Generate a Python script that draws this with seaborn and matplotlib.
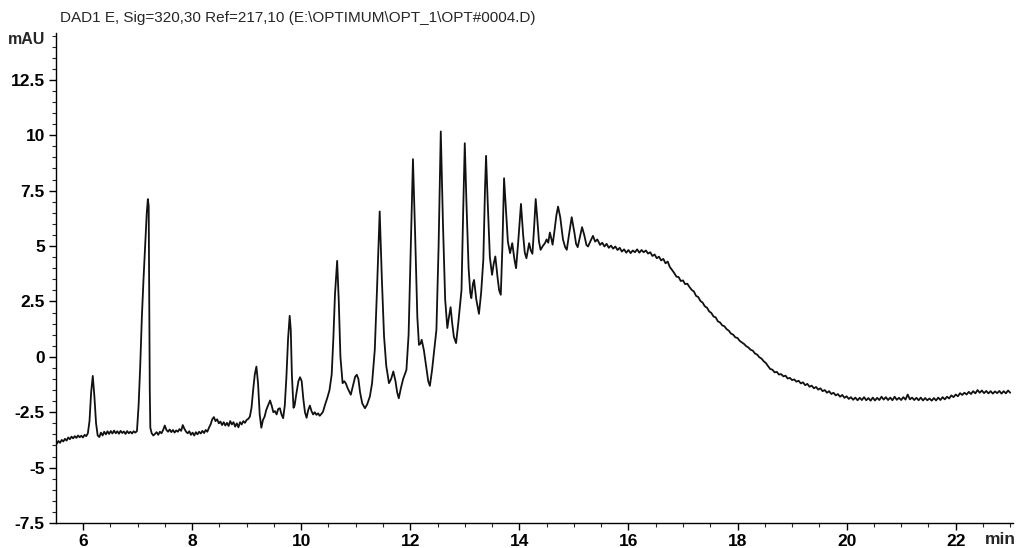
import numpy as np
import pandas as pd
import matplotlib
matplotlib.use("Agg")
import matplotlib.pyplot as plt
from matplotlib.ticker import MultipleLocator, FuncFormatter
import seaborn as sns

# ---- data (time in min, signal in mAU) ----
time_min = [
    5.52, 5.55, 5.58, 5.61, 5.64, 5.67, 5.70, 5.73, 5.76, 5.79, 5.82, 5.85, 5.88, 5.91, 5.94, 5.97,
    6.00, 6.03, 6.06, 6.09,
    6.12, 6.15, 6.18, 6.21, 6.24, 6.27, 6.30,
    6.33, 6.36, 6.39, 6.42, 6.45, 6.48, 6.51, 6.54, 6.57, 6.60, 6.63, 6.66, 6.69, 6.72, 6.75, 6.78,
    6.81, 6.84, 6.87, 6.90, 6.93, 6.96, 6.99,
    7.02, 7.05, 7.08, 7.11, 7.14, 7.17, 7.19, 7.205, 7.215, 7.225, 7.235, 7.26, 7.29, 7.32,
    7.35, 7.38, 7.41, 7.44, 7.47, 7.50, 7.53, 7.56, 7.59, 7.62, 7.65, 7.68, 7.71, 7.74, 7.77, 7.80,
    7.83, 7.86, 7.89, 7.92, 7.95, 7.98, 8.01, 8.04, 8.07, 8.10, 8.13, 8.16, 8.19, 8.22, 8.25, 8.28,
    8.31, 8.34, 8.37, 8.40, 8.43, 8.46, 8.49, 8.52, 8.55, 8.58, 8.61, 8.64, 8.67, 8.70, 8.73, 8.76,
    8.79, 8.82, 8.85, 8.88, 8.91, 8.94, 8.97, 9.00, 9.03, 9.06,
    9.09, 9.12, 9.15, 9.18, 9.21, 9.24, 9.27, 9.30, 9.33, 9.36, 9.40, 9.43, 9.46, 9.49, 9.52, 9.55,
    9.58, 9.61, 9.64, 9.67, 9.70, 9.73, 9.76, 9.79, 9.81, 9.83, 9.86, 9.88, 9.91, 9.95, 9.98, 10.01,
    10.04, 10.07, 10.10, 10.13, 10.16, 10.19, 10.22, 10.25, 10.28, 10.31, 10.34, 10.37, 10.40, 10.44,
    10.48, 10.52, 10.56, 10.59, 10.62, 10.66, 10.69, 10.72, 10.76, 10.79, 10.82, 10.85, 10.88, 10.91,
    10.95, 10.99, 11.02, 11.05, 11.08, 11.12, 11.17, 11.21, 11.26, 11.30, 11.35, 11.39, 11.44, 11.48,
    11.52, 11.56, 11.61, 11.65, 11.69, 11.73, 11.76, 11.79, 11.83, 11.87, 11.93, 11.97, 12.01, 12.05,
    12.09, 12.13, 12.16, 12.19, 12.21, 12.25, 12.29, 12.33, 12.36, 12.40, 12.44, 12.48, 12.52, 12.56,
    12.60, 12.64, 12.68, 12.71, 12.74, 12.77, 12.80, 12.84, 12.88, 12.92, 12.94, 12.97, 13.00, 13.03,
    13.07, 13.10, 13.12, 13.15, 13.17, 13.21, 13.26, 13.30, 13.34, 13.37, 13.39, 13.42, 13.46, 13.50,
    13.53, 13.56, 13.60, 13.63, 13.66, 13.69, 13.72, 13.75, 13.79, 13.83, 13.87, 13.91, 13.94, 13.98,
    14.03, 14.07, 14.10, 14.13, 14.18, 14.21, 14.24, 14.27, 14.30, 14.33, 14.36, 14.39, 14.43, 14.47,
    14.50, 14.53, 14.56, 14.59, 14.61, 14.64, 14.68, 14.71, 14.75, 14.80, 14.84, 14.87, 14.91, 14.96,
    15.01, 15.04, 15.07, 15.11, 15.15, 15.19, 15.23, 15.26, 15.30, 15.35, 15.39, 15.43, 15.48,
    15.52, 15.56, 15.60, 15.64, 15.68, 15.72, 15.76, 15.80, 15.84, 15.88, 15.92, 15.96, 16.00, 16.04,
    16.08, 16.12, 16.16, 16.20, 16.24, 16.28, 16.32, 16.36, 16.40, 16.44, 16.48, 16.52, 16.56, 16.60,
    16.64, 16.68, 16.72, 16.76, 16.80, 16.84, 16.88, 16.92, 16.96, 17.00, 17.04, 17.08, 17.12, 17.16,
    17.20, 17.24, 17.28, 17.32, 17.36, 17.40, 17.44, 17.48, 17.52, 17.56, 17.60, 17.64, 17.68, 17.72,
    17.76, 17.80, 17.84, 17.88, 17.92, 17.96, 18.00, 18.04, 18.08, 18.12, 18.16, 18.20, 18.24, 18.28,
    18.32, 18.36, 18.40, 18.44, 18.48, 18.52, 18.56, 18.60, 18.64, 18.68, 18.72, 18.76, 18.80, 18.84,
    18.88, 18.92, 18.96, 19.00, 19.04, 19.08, 19.12, 19.16, 19.20, 19.24, 19.28, 19.32, 19.36, 19.40,
    19.44, 19.48, 19.52, 19.56, 19.60, 19.64, 19.68, 19.72, 19.76, 19.80, 19.84, 19.88, 19.92, 19.96,
    20.00, 20.04, 20.08, 20.12, 20.16, 20.20, 20.24, 20.28, 20.32, 20.36, 20.40, 20.44, 20.48, 20.52,
    20.56, 20.60, 20.64, 20.68, 20.72, 20.76, 20.80, 20.84, 20.88, 20.92, 20.96, 21.00, 21.04, 21.08,
    21.12, 21.16, 21.20, 21.24, 21.28, 21.32, 21.36, 21.40, 21.44, 21.48, 21.52, 21.56, 21.60, 21.64,
    21.68, 21.72, 21.76, 21.80, 21.84, 21.88, 21.92, 21.96, 22.00, 22.04, 22.08, 22.12, 22.16, 22.20,
    22.24, 22.28, 22.32, 22.36, 22.40, 22.44, 22.48, 22.52, 22.56, 22.60, 22.64, 22.68, 22.72, 22.76,
    22.80, 22.84, 22.88, 22.92, 22.96, 23.00,
]

signal_mau = [
    -3.92, -3.80, -3.88, -3.75, -3.82, -3.70, -3.78, -3.64, -3.72, -3.60, -3.68, -3.58, -3.66, -3.55, -3.63, -3.56,
    -3.64, -3.52, -3.58, -3.45,
    -2.90, -1.60, -0.86, -1.80, -3.00, -3.55, -3.62,
    -3.42, -3.55, -3.38, -3.50, -3.36, -3.48, -3.35, -3.46, -3.33, -3.45, -3.36, -3.47, -3.34, -3.44, -3.37, -3.48,
    -3.35, -3.45, -3.38, -3.46, -3.36, -3.42, -3.35,
    -2.20, -0.40, 1.80, 3.50, 5.00, 6.50, 7.12, 6.80, 3.00, -1.50, -3.20, -3.45, -3.55, -3.48,
    -3.40, -3.52, -3.38, -3.45, -3.30, -3.10, -3.30, -3.38, -3.28, -3.40, -3.30, -3.42, -3.32, -3.38, -3.26, -3.34,
    -3.08, -3.25, -3.38, -3.45, -3.36, -3.52, -3.42, -3.55, -3.40, -3.50, -3.38, -3.46, -3.34, -3.44, -3.30, -3.38,
    -3.20, -3.05, -2.82, -2.72, -2.90, -2.82, -3.00, -2.92, -3.08, -2.95, -3.10, -2.98, -3.12, -2.90, -3.05, -2.95,
    -3.15, -3.00, -3.18, -2.95, -3.05, -2.90, -2.98, -2.85, -2.80, -2.70,
    -2.30, -1.50, -0.80, -0.44, -1.20, -2.60, -3.20, -2.85, -2.70, -2.40, -2.15, -1.97, -2.20, -2.50, -2.45, -2.60,
    -2.35, -2.32, -2.60, -2.77, -2.20, -0.90, 0.80, 1.85, 1.20, -0.80, -2.30, -2.20, -1.70, -1.10, -0.92, -1.10,
    -1.90, -2.50, -2.75, -2.40, -2.20, -2.45, -2.60, -2.50, -2.62, -2.55, -2.66, -2.58, -2.48, -2.15,
    -1.85, -1.50, -0.80, 0.80, 2.80, 4.33, 2.50, 0.00, -1.19, -1.10, -1.20, -1.40, -1.55, -1.71,
    -1.30, -0.90, -0.81, -1.00, -1.60, -2.10, -2.32, -2.15, -1.79, -1.20, 0.32, 3.00, 6.56, 3.50,
    0.92, -0.40, -1.19, -1.00, -0.66, -1.10, -1.60, -1.87, -1.40, -1.00, -0.59, 1.00, 5.00, 8.92,
    5.50, 1.80, 0.54, 0.60, 0.77, 0.30, -0.40, -1.10, -1.31, -0.60, 0.30, 1.22, 5.00, 10.17,
    6.00, 2.60, 1.30, 1.80, 2.24, 1.50, 0.90, 0.62, 1.50, 2.50, 3.02, 6.50, 9.64, 7.00,
    4.00, 2.90, 2.65, 3.30, 3.47, 2.60, 1.94, 2.90, 4.38, 7.50, 9.07, 7.00, 4.50, 3.70,
    4.20, 4.53, 3.60, 3.00, 2.80, 5.00, 8.06, 6.80, 5.20, 4.68, 5.13, 4.40, 4.00, 5.20,
    6.90, 5.50, 4.70, 4.45, 5.13, 4.80, 4.65, 5.80, 7.12, 6.20, 5.20, 4.83, 5.00, 5.13,
    5.30, 5.15, 5.61, 5.30, 5.06, 5.60, 6.40, 6.78, 6.30, 5.30, 4.95, 4.83, 5.50, 6.30,
    5.60, 5.10, 4.95, 5.40, 5.85, 5.50, 5.05, 4.98, 5.20, 5.46, 5.20, 5.30, 5.05,
    5.15, 4.98, 5.10, 4.92, 5.02, 4.88, 4.98, 4.82, 4.92, 4.75, 4.85, 4.70, 4.82, 4.68,
    4.80, 4.72, 4.85, 4.70, 4.82, 4.72, 4.80, 4.66, 4.72, 4.55, 4.62, 4.45, 4.52, 4.35,
    4.42, 4.22, 4.30, 4.05, 3.92, 3.78, 3.62, 3.60, 3.42, 3.45, 3.28, 3.30, 3.15, 3.02,
    2.95, 2.75, 2.70, 2.52, 2.45, 2.28, 2.22, 2.05, 1.98, 1.82, 1.78, 1.60, 1.55, 1.42,
    1.38, 1.25, 1.18, 1.05, 1.00, 0.88, 0.85, 0.72, 0.65, 0.58, 0.48, 0.42, 0.32, 0.28,
    0.15, 0.10, -0.02, -0.08, -0.20, -0.28, -0.42, -0.55, -0.58, -0.70, -0.68, -0.80, -0.78, -0.88,
    -0.85, -0.98, -0.95, -1.05, -1.02, -1.12, -1.08, -1.20, -1.15, -1.28, -1.22, -1.35, -1.30, -1.42,
    -1.36, -1.48, -1.42, -1.55, -1.50, -1.62, -1.55, -1.68, -1.62, -1.74, -1.68, -1.80, -1.72, -1.85,
    -1.78, -1.90, -1.82, -1.94, -1.84, -1.96, -1.85, -1.95, -1.82, -1.96, -1.86, -1.98, -1.84, -1.97,
    -1.85, -1.95, -1.80, -1.93, -1.82, -1.95, -1.84, -1.96, -1.80, -1.94, -1.85, -1.95, -1.82, -1.93,
    -1.70, -1.92, -1.84, -1.95, -1.85, -1.96, -1.84, -1.97, -1.86, -1.96, -1.88, -1.98, -1.86, -1.97,
    -1.84, -1.95, -1.82, -1.92, -1.80, -1.88, -1.74, -1.82, -1.70, -1.78, -1.64, -1.72, -1.62, -1.70,
    -1.58, -1.68, -1.55, -1.65, -1.50, -1.62, -1.52, -1.64, -1.54, -1.65, -1.55, -1.66, -1.56, -1.64,
    -1.54, -1.66, -1.55, -1.65, -1.52, -1.62,
]

x_ticks = [6, 8, 10, 12, 14, 16, 18, 20, 22]
y_ticks = [-7.5, -5, -2.5, 0, 2.5, 5, 7.5, 10, 12.5]
title_text = "DAD1 E, Sig=320,30 Ref=217,10 (E:\\OPTIMUM\\OPT_1\\OPT#0004.D)"
x_unit = "min"
y_unit = "mAU"

# ---- styling ----
sns.set_style("ticks")
plt.rcParams["font.family"] = ["Liberation Sans", "DejaVu Sans"]
plt.rcParams["axes.unicode_minus"] = False

df = pd.DataFrame({"t": time_min, "y": signal_mau})

fig = plt.figure(figsize=(10.23, 5.48), dpi=100)
ax = fig.add_axes([0.0547, 0.0456, 0.9355, 0.894])

sns.lineplot(data=df, x="t", y="y", ax=ax, color="#111111", linewidth=1.3,
             estimator=None, sort=False)

ax.set_xlim(5.505, 23.05)
ax.set_ylim(-7.5, 14.61)
ax.set_xticks(x_ticks)
ax.set_yticks(y_ticks)
ax.xaxis.set_minor_locator(MultipleLocator(0.5))
ax.yaxis.set_minor_locator(MultipleLocator(0.5))
ax.yaxis.set_major_formatter(FuncFormatter(lambda v, p: "%g" % v))
ax.xaxis.set_major_formatter(FuncFormatter(lambda v, p: "%g" % v))

for side in ["top", "right"]:
    ax.spines[side].set_visible(False)
for side in ["left", "bottom"]:
    ax.spines[side].set_linewidth(1.0)
    ax.spines[side].set_color("black")

ax.tick_params(axis="both", which="major", direction="out", length=5, width=1.0,
               labelsize=12.5, pad=3, colors="black")
ax.tick_params(axis="both", which="minor", direction="out", length=3, width=0.8)
for lab in ax.get_xticklabels() + ax.get_yticklabels():
    lab.set_fontweight("bold")

ax.set_xlabel("")
ax.set_ylabel("")

fig.text(1000 / 1023, 1 - 540 / 548, x_unit, ha="center", va="center",
         fontsize=12.5, fontweight="bold")
fig.text(45 / 1023, 1 - 40 / 548, y_unit, ha="right", va="center",
         fontsize=11.5, fontweight="bold")
fig.text(60 / 1023, 1 - 18 / 548, title_text, ha="left", va="center", fontsize=11)

fig.savefig("out.png", dpi=100, facecolor="white")
